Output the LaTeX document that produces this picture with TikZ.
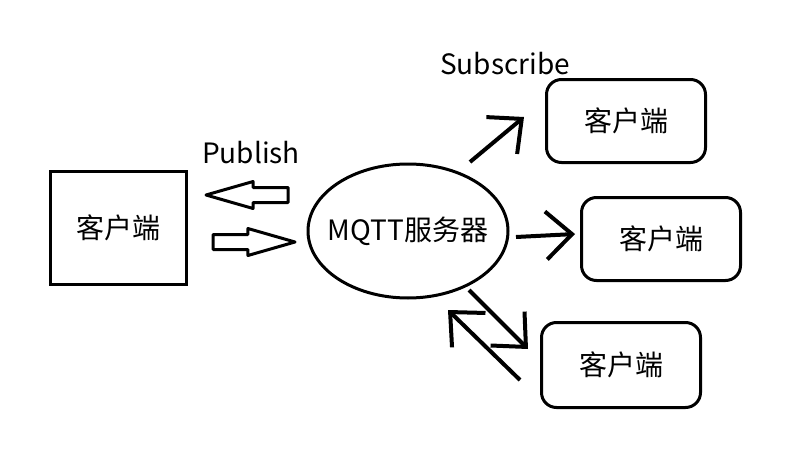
\documentclass[tikz,border=0pt]{standalone}
\usepackage{fontspec}
\setmainfont{Noto Sans CJK SC}
\usetikzlibrary{positioning, shapes.geometric, shapes.arrows, arrows.meta}

\begin{document}
\begin{tikzpicture}[x=1pt, y=-1pt, line width=3pt, font=\fontsize{28}{34}\selectfont,
    barb/.style={line width=4pt, -{Straight Barb[length=26pt,width=48pt]}},
    hollow/.style={single arrow, draw, line width=3pt, line join=round, minimum height=82pt,
      single arrow head extend=6pt, single arrow tip angle=32, inner sep=6pt, outer sep=0pt, anchor=tip},
    client/.style={rectangle, draw, rounded corners=15pt, minimum width=159pt, minimum height=83pt}]
        \useasboundingbox (0,0) rectangle (792,452);

        \node[rectangle, draw, minimum width=136pt, minimum height=113pt] (pub) at (118,228) {客户端};
        \node[ellipse, draw, minimum width=200pt, minimum height=134pt] (server) at (408,231) {};
        \node (servertext) at (server.center) {MQTT服务器};
        \node[client] (sub1) at (626,121) {客户端};
        \node[client] (sub2) at (661,239) {客户端};
        \node[client, minimum height=85pt] (sub3) at (621,365) {客户端};

        \node (publabel) at (251,153) {Publish};
        \node (sublabel) at (505,64) {Subscribe};

        \node[hollow, shape border rotate=180] (back) at (206,195) {};
        \node[hollow] (forth) at (295,242) {};

        \coordinate (s1a) at (470,162);
        \coordinate (s1b) at (524,117);
        \coordinate (s2a) at (516,237);
        \coordinate (s2b) at (575,234);
        \coordinate (s3a) at (469,290);
        \coordinate (s3b) at (528,349);
        \coordinate (p3a) at (520,380);
        \coordinate (p3b) at (448,310);

        \draw[barb] (s1a) -- (s1b);
        \draw[barb] (s2a) -- (s2b);
        \draw[barb] (s3a) -- (s3b);
        \draw[barb] (p3a) -- (p3b);
    \end{tikzpicture}
\end{document}
